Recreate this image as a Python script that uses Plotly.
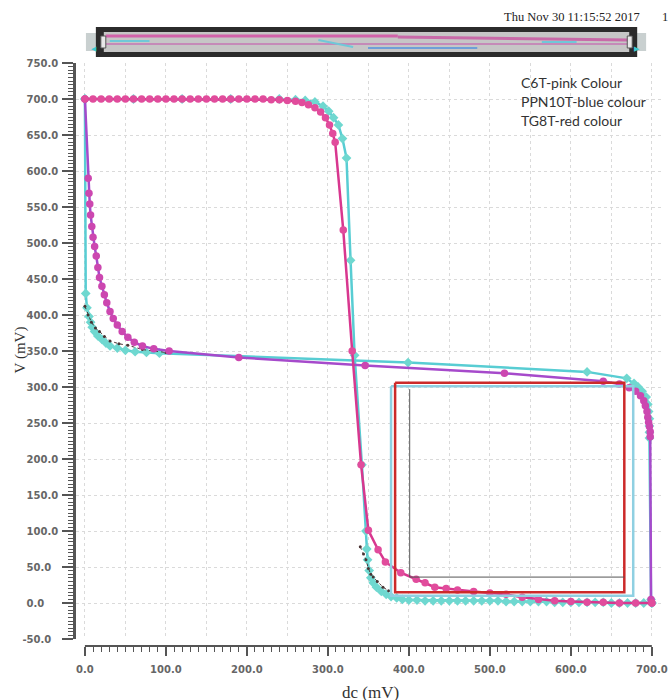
import plotly.graph_objects as go

# ---------------- data (mV) ----------------
# C6T (pink) - curve 1 (high -> low transition near 330 mV)
c6t_a_x = [0, 10, 20, 30, 40, 50, 60, 70, 80, 90, 100, 110, 120, 130, 140, 150, 160, 170, 180, 190, 200, 210,
           220, 230, 240, 250, 260, 268, 276, 284, 291, 297, 302, 306, 309, 319, 330, 341, 350, 362, 371, 390,
           409, 420, 432, 446, 460, 480, 500, 520, 540, 560, 580, 600, 620, 640, 660, 680, 700]
c6t_a_y = [700, 700, 700, 700, 700, 700, 700, 700, 700, 700, 700, 700, 700, 700, 700, 700, 700, 700, 700, 700, 700, 700,
           700, 699, 699, 698, 697, 695, 692, 688, 682, 674, 664, 652, 640, 518, 350, 192, 101, 74, 57, 42,
           33, 28, 22, 20, 18, 16, 14, 12, 8, 5, 3, 2, 1, 1, 0, 0, 0]
# C6T (pink) - curve 2 (mirrored)
c6t_b_x = [0, 4, 5, 6, 7, 8.5, 10, 12, 14, 16, 18, 21, 24, 27, 31, 35, 40, 46, 53, 61, 71, 85, 104, 190, 346,
           518, 640, 660, 672, 680, 686, 690, 692, 694, 695, 696, 697, 698, 698, 699, 700]
c6t_b_y = [700, 590, 569, 554, 539, 523, 508, 495, 482, 466, 452, 440, 428, 417, 405, 395, 386, 377, 369, 362, 357,
           353, 350, 341, 330, 319, 308, 304, 299, 294, 288, 281, 274, 266, 258, 251, 245, 238, 231, 5, 0]

# PPN10T (blue) - curve 1
ppn_a_x = [0, 60, 120, 180, 240, 260, 272, 284, 294, 301, 307, 313, 318, 323, 328, 333, 342, 347, 348, 349, 351,
           353, 356, 360, 366, 372, 378, 385, 392, 400, 410, 420, 430, 440, 450, 460, 470, 480, 490, 500, 510,
           520, 530, 540, 550, 560, 570, 580, 590, 600, 610, 620, 630, 640, 650, 660, 670, 680, 690, 700]
ppn_a_y = [700, 700, 700, 700, 700, 699, 698, 696, 690, 683, 674, 664, 645, 618, 476, 344, 192, 100, 75, 60, 45,
           35, 28, 22, 16, 12, 9, 7, 5, 4, 4, 3, 3, 3, 3, 3, 3, 3, 3, 3, 3,
           2, 2, 2, 2, 2, 2, 1, 1, 1, 1, 1, 1, 1, 0, 0, 0, 0, 0, 0]
# PPN10T (blue) - curve 2
ppn_b_x = [0, 1, 2.5, 5, 7, 9, 12, 16, 21, 26, 31, 40, 50, 62, 76, 92, 399, 620, 669, 678, 683, 688, 693, 695,
           696, 697, 697, 697, 697, 699, 700]
ppn_b_y = [700, 430, 410, 398, 390, 383, 377, 371, 366, 361, 357, 354, 351, 349, 348, 347, 334, 321, 312, 305, 300,
           294, 286, 276, 266, 256, 246, 237, 229, 5, 0]

# TG8T (red) - faint traces
tg8_b_x = [0, 4, 8, 13, 18, 24, 31, 42, 53, 71, 100]
tg8_b_y = [412, 400, 390, 382, 377, 370, 364, 360, 358, 352, 348]
tg8_a_x = [340, 344, 347, 350, 353, 356, 361, 368, 375]
tg8_a_y = [78, 68, 60, 48, 40, 36, 30, 22, 17]

# noise-margin squares
blue_box_x = [378, 677, 677, 378, 378]
blue_box_y = [301, 301, 10, 10, 301]
red_box_x = [383, 666, 666, 383, 383]
red_box_y = [306, 306, 15, 15, 306]
black_box_x = [401, 401, 666]
black_box_y = [297, 36, 36]

# tick labels
x_tick_vals = list(range(0, 701, 50))
x_tick_text = [f"{v:.1f}" if v % 100 == 0 else "" for v in x_tick_vals]
y_tick_vals = list(range(-50, 751, 50))
y_tick_text = [f"{v:.1f}" for v in y_tick_vals]

legend_lines = ["C6T-pink Colour", "PPN10T-blue colour", "TG8T-red colour"]
timestamp = "Thu Nov 30 11:15:52 2017"
timestamp_tail = "1"

# ---------------- figure ----------------
W, H = 671, 700
ML, MR, MT, MB = 76, 3, 63, 54
PW, PH = W - ML - MR, H - MT - MB
PLOT_L, PLOT_B = ML, H - MB  # window pixels


def pxx(x):
    return (x - PLOT_L) / PW


def pxy(y):
    return (PLOT_B - y) / PH


# pad y tick labels so they appear left aligned
FS = "\u2007"
y_tick_text_padded = []
for t in y_tick_text:
    n = 5 - len(t.replace("-", ""))
    y_tick_text_padded.append(t + FS * max(n, 0))

fig = go.Figure()

CYAN_L = "#58cdd3"
CYAN_M = "#6fd8d0"
PINK_L = "#d8378f"
PINK_M = "#e14c9c"
PURP_L = "#a64acb"
PURP_M = "#cc47b0"

fig.add_trace(go.Scatter(x=ppn_a_x, y=ppn_a_y, mode="lines+markers",
                         line=dict(color=CYAN_L, width=2.5),
                         marker=dict(symbol="diamond", size=7.5, color=CYAN_M)))
fig.add_trace(go.Scatter(x=ppn_b_x, y=ppn_b_y, mode="lines+markers",
                         line=dict(color=CYAN_L, width=2.5),
                         marker=dict(symbol="diamond", size=7.5, color=CYAN_M)))
fig.add_trace(go.Scatter(x=tg8_b_x, y=tg8_b_y, mode="lines+markers",
                         line=dict(color="#4a3535", width=1, dash="dot"),
                         marker=dict(size=3, color="#4a3535")))
fig.add_trace(go.Scatter(x=tg8_a_x, y=tg8_a_y, mode="lines+markers",
                         line=dict(color="#4a3535", width=1, dash="dot"),
                         marker=dict(size=3, color="#4a3535")))
fig.add_trace(go.Scatter(x=c6t_b_x, y=c6t_b_y, mode="lines+markers",
                         line=dict(color=PURP_L, width=2.5),
                         marker=dict(symbol="circle", size=7.5, color=PURP_M)))
fig.add_trace(go.Scatter(x=c6t_a_x, y=c6t_a_y, mode="lines+markers",
                         line=dict(color=PINK_L, width=2.5),
                         marker=dict(symbol="circle", size=7.5, color=PINK_M)))
fig.add_trace(go.Scatter(x=blue_box_x, y=blue_box_y, mode="lines",
                         line=dict(color="#8fd0e2", width=2.5)))
fig.add_trace(go.Scatter(x=red_box_x, y=red_box_y, mode="lines",
                         line=dict(color="#cc2a2a", width=2.5)))
fig.add_trace(go.Scatter(x=black_box_x, y=black_box_y, mode="lines",
                         line=dict(color="#555555", width=1)))

tickfont = dict(family="DejaVu Sans", size=10, color="#666666", weight="bold")
GRID = "#dadada"

fig.update_layout(
    width=W, height=H,
    margin=dict(l=ML, r=MR, t=MT, b=MB, pad=0),
    paper_bgcolor="white", plot_bgcolor="white",
    showlegend=False,
    xaxis=dict(
        range=[-11, 715], domain=[0, 1], anchor="free", position=0,
        showline=False, zeroline=False,
        tickmode="array", tickvals=x_tick_vals, ticktext=x_tick_text,
        ticks="outside", ticklen=9, tickwidth=1.5, tickcolor="#555555",
        ticklabelstandoff=5, ticklabeloverflow="allow",
        showgrid=True, gridcolor=GRID, griddash="dot", gridwidth=1,
        minor=dict(tickmode="array", tickvals=list(range(0, 701, 10)), ticks="outside",
                   ticklen=5, tickwidth=1.2, tickcolor="#555555", showgrid=False),
        tickfont=tickfont,
    ),
    yaxis=dict(
        range=[-50, 750], domain=[7 / PH, 1],
        showline=True, linecolor="#555555", linewidth=2.5, zeroline=False,
        tickmode="array", tickvals=y_tick_vals, ticktext=y_tick_text_padded,
        ticks="outside", ticklen=11, tickwidth=1.5, tickcolor="#555555",
        ticklabelstandoff=2, ticklabeloverflow="allow",
        showgrid=True, gridcolor=GRID, griddash="dot", gridwidth=1,
        minor=dict(tickmode="array", tickvals=list(range(-50, 751, 5)), ticks="outside",
                   ticklen=5, tickwidth=1.2, tickcolor="#555555", showgrid=False),
        tickfont=tickfont,
    ),
)

shapes = []
# x axis spine (0..700)
shapes.append(dict(type="line", xref="x", yref="paper", x0=0, x1=700, y0=0, y1=0,
                   line=dict(color="#555555", width=2)))


def prect(x0, y0, x1, y1, fill, line=None, lw=0):
    return dict(type="rect", xref="paper", yref="paper",
                x0=pxx(x0), x1=pxx(x1), y0=pxy(y1), y1=pxy(y0),
                fillcolor=fill, line=dict(color=line or fill, width=lw), layer="above")


def pline(x0, y0, x1, y1, color, w):
    return dict(type="line", xref="paper", yref="paper",
                x0=pxx(x0), x1=pxx(x1), y0=pxy(y0), y1=pxy(y1),
                line=dict(color=color, width=w), layer="above")


# mini overview bar in header
shapes.append(prect(86, 33, 97, 51, "#c9d0d0"))
shapes.append(prect(640, 33, 650, 51, "#c9d0d0"))
shapes.append(prect(96, 27, 641, 57, "#2b2b2b"))
shapes.append(prect(104, 32, 633, 52, "#c6c6c6"))
shapes.append(pline(106, 36, 400, 36, "#d263aa", 3))
shapes.append(pline(400, 37, 632, 40, "#c86aa8", 3))
shapes.append(pline(106, 44, 632, 44, "#c58ab8", 2))
shapes.append(pline(110, 41, 150, 41, "#6fc8d8", 2))
shapes.append(pline(320, 40, 355, 47, "#6fc8d8", 2))
shapes.append(pline(370, 48, 480, 48, "#6f9fd8", 2))
shapes.append(pline(545, 42, 580, 42, "#6fc8d8", 2))
shapes.append(prect(101, 36, 106, 48, "#e8e8e8", "#555555", 1))
shapes.append(prect(631, 36, 636, 48, "#e8e8e8", "#555555", 1))

fig.update_layout(shapes=shapes)

ann = []
ann.append(dict(xref="paper", yref="paper", x=pxx(89), y=pxy(42), text="◀", showarrow=False,
                font=dict(size=7, color="#3cc8d0")))
ann.append(dict(xref="paper", yref="paper", x=pxx(646), y=pxy(42), text="▶", showarrow=False,
                font=dict(size=7, color="#3cc8d0")))
ann.append(dict(xref="paper", yref="paper", x=pxx(505), y=pxy(17), text=timestamp, showarrow=False,
                xanchor="left", yanchor="middle",
                font=dict(family="Liberation Serif", size=12.5, color="#222222")))
ann.append(dict(xref="paper", yref="paper", x=pxx(664), y=pxy(17), text=timestamp_tail, showarrow=False,
                xanchor="left", yanchor="middle",
                font=dict(family="Liberation Serif", size=12.5, color="#222222")))
for i, line in enumerate(legend_lines):
    ann.append(dict(xref="paper", yref="paper", x=pxx(522), y=pxy(82 + 19.5 * i), text=line,
                    showarrow=False, xanchor="left", yanchor="middle",
                    font=dict(family="Lato", size=14, color="#333333")))
ann.append(dict(xref="paper", yref="paper", x=pxx(20), y=pxy(350), text="V (mV)", showarrow=False,
                textangle=-90, xanchor="center", yanchor="middle",
                font=dict(family="Liberation Serif", size=15, color="#333333")))
ann.append(dict(xref="paper", yref="paper", x=pxx(373), y=pxy(692), text="dc (mV)", showarrow=False,
                xanchor="center", yanchor="middle",
                font=dict(family="Liberation Serif", size=17, color="#333333")))
fig.update_layout(annotations=ann)

# remove the default 8px page margin so the 671x700 figure fills the window exactly
fig.write_html("out.html", config={"displayModeBar": False},
               post_script="document.body.style.margin='0';document.body.style.overflow='hidden';")
